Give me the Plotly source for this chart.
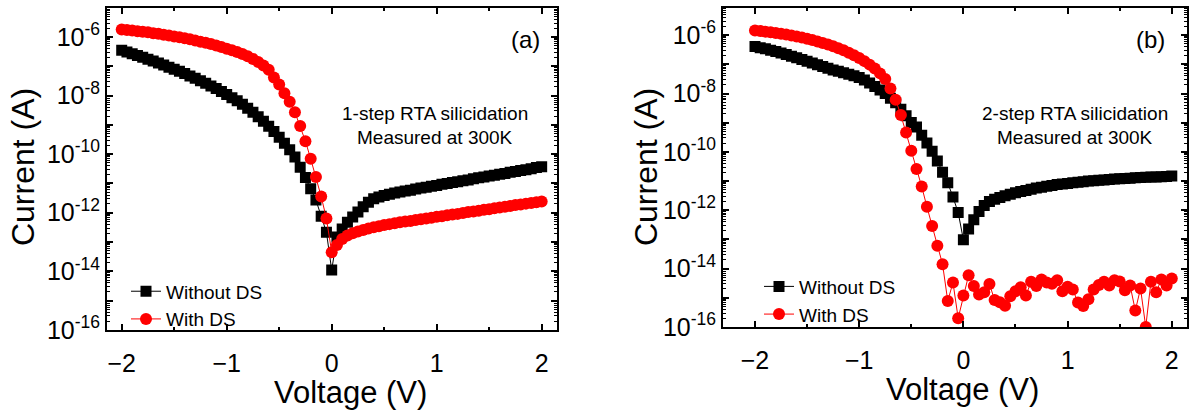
import numpy as np
import plotly.graph_objects as go

# Bias sweep (V), shared by all four I-V curves
voltage = [
    -2.00, -1.95, -1.90, -1.85, -1.80, -1.75, -1.70, -1.65, -1.60, -1.55,
    -1.50, -1.45, -1.40, -1.35, -1.30, -1.25, -1.20, -1.15, -1.10, -1.05,
    -1.00, -0.95, -0.90, -0.85, -0.80, -0.75, -0.70, -0.65, -0.60, -0.55,
    -0.50, -0.45, -0.40, -0.35, -0.30, -0.25, -0.20, -0.15, -0.10, -0.05,
    0.00, 0.05, 0.10, 0.15, 0.20, 0.25, 0.30, 0.35, 0.40, 0.45,
    0.50, 0.55, 0.60, 0.65, 0.70, 0.75, 0.80, 0.85, 0.90, 0.95,
    1.00, 1.05, 1.10, 1.15, 1.20, 1.25, 1.30, 1.35, 1.40, 1.45,
    1.50, 1.55, 1.60, 1.65, 1.70, 1.75, 1.80, 1.85, 1.90, 1.95, 2.00,
]

# log10 of |I| (A) -- panel (a), 1-step RTA
log_i_without_a = [
    -6.45, -6.51, -6.57, -6.63, -6.69, -6.76, -6.82, -6.89, -6.96, -7.03,
    -7.10, -7.17, -7.25, -7.33, -7.41, -7.49, -7.58, -7.67, -7.76, -7.86,
    -7.96, -8.07, -8.18, -8.30, -8.43, -8.57, -8.72, -8.88, -9.05, -9.23,
    -9.42, -9.63, -9.85, -10.10, -10.45, -10.80, -11.18, -11.57, -12.12, -12.67,
    -13.96, -12.83, -12.56, -12.33, -12.15, -11.98, -11.80, -11.64, -11.52, -11.46,
    -11.41, -11.37, -11.33, -11.29, -11.26, -11.23, -11.19, -11.16, -11.13, -11.10,
    -11.07, -11.03, -11.00, -10.97, -10.94, -10.91, -10.88, -10.84, -10.81, -10.78,
    -10.75, -10.72, -10.69, -10.66, -10.62, -10.59, -10.56, -10.53, -10.50, -10.46, -10.43,
]
log_i_with_a = [
    -5.74, -5.76, -5.78, -5.80, -5.82, -5.84, -5.87, -5.89, -5.92, -5.95,
    -5.98, -6.01, -6.04, -6.08, -6.12, -6.16, -6.20, -6.24, -6.29, -6.34,
    -6.40, -6.45, -6.51, -6.58, -6.66, -6.75, -6.85, -6.97, -7.12, -7.38,
    -7.62, -7.92, -8.21, -8.57, -9.04, -9.56, -10.16, -10.78, -11.45, -12.20,
    -13.35, -13.10, -12.90, -12.78, -12.70, -12.64, -12.59, -12.54, -12.50, -12.46,
    -12.42, -12.39, -12.36, -12.33, -12.30, -12.28, -12.25, -12.22, -12.20, -12.17,
    -12.14, -12.12, -12.09, -12.06, -12.04, -12.01, -11.98, -11.96, -11.93, -11.90,
    -11.88, -11.85, -11.82, -11.80, -11.77, -11.74, -11.72, -11.69, -11.67, -11.64, -11.62,
]

# log10 of |I| (A) -- panel (b), 2-step RTA
log_i_without_b = [
    -6.39, -6.43, -6.47, -6.52, -6.56, -6.61, -6.66, -6.72, -6.77, -6.83,
    -6.89, -6.95, -7.01, -7.07, -7.13, -7.19, -7.24, -7.29, -7.34, -7.39,
    -7.45, -7.54, -7.64, -7.76, -7.88, -8.00, -8.16, -8.32, -8.54, -8.76,
    -8.99, -9.15, -9.43, -9.70, -9.98, -10.31, -10.70, -11.06, -11.55, -12.08,
    -13.01, -12.64, -12.33, -12.04, -11.84, -11.70, -11.62, -11.56, -11.50, -11.45,
    -11.40, -11.36, -11.32, -11.28, -11.24, -11.21, -11.18, -11.15, -11.12, -11.10,
    -11.08, -11.06, -11.04, -11.02, -11.00, -10.99, -10.97, -10.96, -10.95, -10.93,
    -10.92, -10.91, -10.90, -10.89, -10.88, -10.87, -10.86, -10.86, -10.85, -10.84, -10.83,
]
log_i_with_b = [
    -5.84, -5.86, -5.88, -5.90, -5.93, -5.95, -5.98, -6.01, -6.05, -6.08,
    -6.12, -6.17, -6.22, -6.27, -6.32, -6.38, -6.45, -6.52, -6.60, -6.69,
    -6.78, -6.89, -7.01, -7.14, -7.31, -7.50, -7.83, -8.21, -8.74, -9.34,
    -9.96, -10.59, -11.19, -11.88, -12.54, -13.22, -13.85, -15.11, -14.48, -15.70,
    -14.92, -14.23, -14.60, -14.89, -14.81, -14.53, -15.08, -15.15, -15.27, -14.95,
    -14.78, -14.64, -14.92, -14.45, -14.60, -14.37, -14.48, -14.52, -14.40, -14.78,
    -14.62, -14.72, -15.16, -15.28, -15.05, -14.72, -14.56, -14.45, -14.58, -14.40,
    -14.44, -14.74, -14.58, -15.44, -14.68, -16.00, -14.45, -14.81, -14.37, -14.58, -14.34,
]

decades = list(range(-16, -4))
decade_text = ["10<sup>%d</sup>" % d if d % 2 == 0 else "" for d in decades]

FONT = "Arial, Liberation Sans, sans-serif"
W, H = 1195, 410


def current(log_vals):
    return (10.0 ** np.array(log_vals)).tolist()


fig = go.Figure()

series = [
    ("x", "y", "legend", log_i_without_a, log_i_with_a),
    ("x2", "y2", "legend2", log_i_without_b, log_i_with_b),
]
for xa, ya, lg, without_ds, with_ds in series:
    fig.add_trace(go.Scatter(
        x=voltage, y=current(without_ds), xaxis=xa, yaxis=ya, legend=lg,
        name="Without DS", mode="lines+markers", cliponaxis=True,
        line=dict(color="black", width=1),
        marker=dict(symbol="square", size=11, color="black"),
    ))
    fig.add_trace(go.Scatter(
        x=voltage, y=current(with_ds), xaxis=xa, yaxis=ya, legend=lg,
        name="With DS", mode="lines+markers", cliponaxis=True,
        line=dict(color="#ff0000", width=1),
        marker=dict(symbol="circle", size=12, color="#ff0000"),
    ))

minor_vals = [m * 10.0 ** d for d in decades for m in range(2, 10)]


def x_axis(domain, rng, anchor):
    return dict(
        domain=domain, range=rng, anchor=anchor,
        tickmode="linear", tick0=0, dtick=1,
        ticks="inside", ticklen=6, tickwidth=1.5, tickcolor="black",
        showline=True, linewidth=2, linecolor="black", mirror="ticks",
        showgrid=False, zeroline=False, ticklabelstandoff=10,
        tickfont=dict(family=FONT, size=25, color="black"),
        minor=dict(dtick=0.5, tick0=0, ticks="inside", ticklen=3,
                   tickwidth=1.5, tickcolor="black", showgrid=False),
    )


def y_axis(domain, rng, anchor):
    return dict(
        domain=domain, range=rng, anchor=anchor, type="log",
        tickmode="array", tickvals=[10.0 ** d for d in decades], ticktext=decade_text,
        ticks="inside", ticklen=6, tickwidth=1.5, tickcolor="black",
        showline=True, linewidth=2, linecolor="black", mirror="ticks",
        showgrid=False, zeroline=False,
        tickfont=dict(family=FONT, size=25, color="black"),
        minor=dict(tickmode="array", tickvals=minor_vals, ticks="inside", ticklen=3,
                   tickwidth=1, tickcolor="black", showgrid=False),
    )


def px_x(p):
    return p / W


def px_y(p):
    return 1 - p / H


legend_common = dict(
    xanchor="left", yanchor="top", bgcolor="rgba(0,0,0,0)",
    font=dict(family=FONT, size=19, color="black"),
    tracegroupgap=0, itemclick=False, itemdoubleclick=False,
)

text_font = dict(family=FONT, size=19, color="black")
title_font = dict(family=FONT, size=31, color="black")


def note(cx, cy, text, font, angle=0):
    return dict(x=px_x(cx), y=px_y(cy), xref="paper", yref="paper", text=text,
                xanchor="center", yanchor="middle", textangle=angle,
                showarrow=False, font=font)


annotations = []
for cx_label, cx_note, label, step, cx_xt, cy_xt, cx_yt in [
    (525, 435, "(a)", "1-step RTA silicidation", 350, 406, 23),
    (1150, 1075, "(b)", "2-step RTA silicidation", 962, 403, 646),
]:
    annotations += [
        note(cx_label, 41, label, dict(family=FONT, size=24, color="black")),
        note(cx_note, 117, step, text_font),
        note(cx_note, 142, "Measured at 300K", text_font),
        note(cx_xt, cy_xt, "Voltage (V)", title_font),
        note(cx_yt, 173, "Current (A)", dict(family=FONT, size=32, color="black"), -90),
    ]

fig.update_layout(
    width=W, height=H,
    margin=dict(l=0, r=0, t=0, b=0),
    paper_bgcolor="white", plot_bgcolor="white",
    font=dict(family=FONT, color="black"),
    xaxis=x_axis([px_x(107), px_x(557)], [-2.14, 2.146], "y"),
    yaxis=y_axis([px_y(341.5), px_y(8)], [-16, -5], "x"),
    xaxis2=x_axis([px_x(723), px_x(1187)], [-2.307, 2.146], "y2"),
    yaxis2=y_axis([px_y(338.5), px_y(8)], [-16, -5.06], "x2"),
    legend=dict(x=px_x(126), y=px_y(282), **legend_common),
    legend2=dict(x=px_x(759), y=px_y(277), **legend_common),
    annotations=annotations,
    showlegend=True,
)

fig.write_html("out.html")
